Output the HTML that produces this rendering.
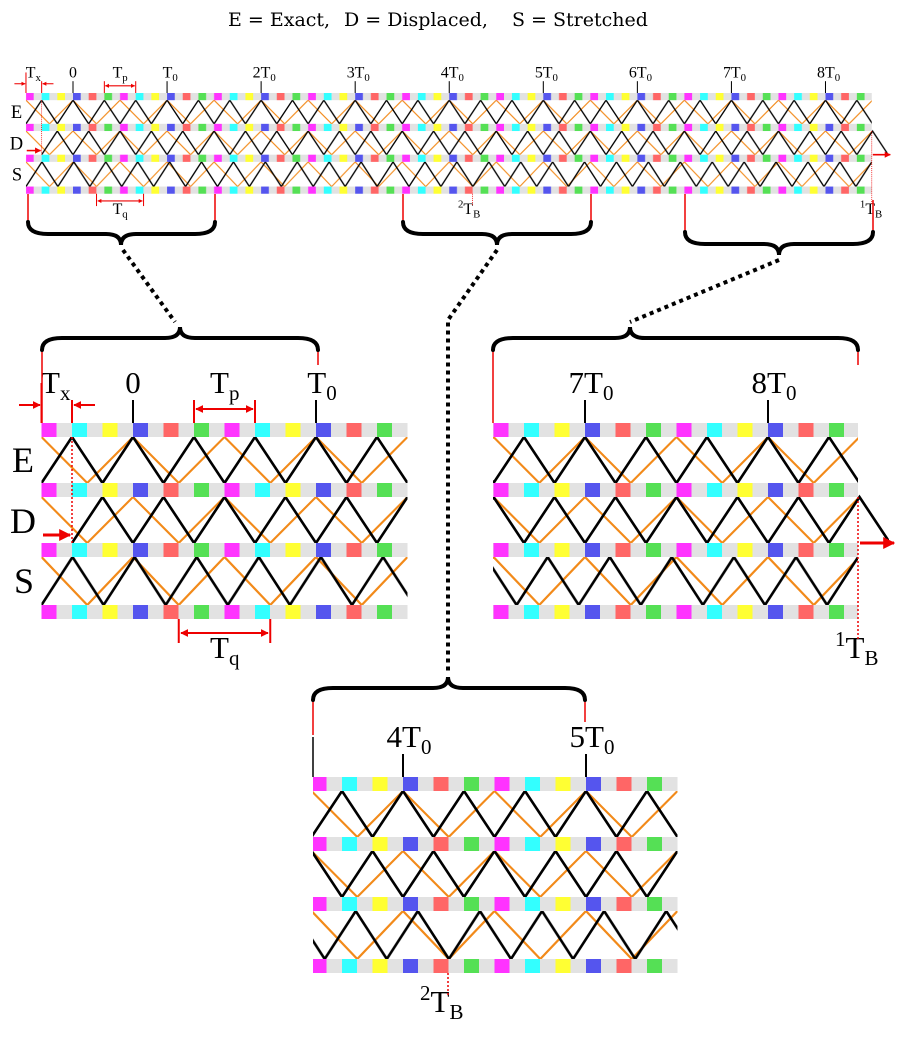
<!DOCTYPE html>
<html><head><meta charset="utf-8"><style>
html,body{margin:0;padding:0;background:#fff;}
svg{display:block;font-family:"Liberation Serif",serif;}
</style></head><body>
<svg width="900" height="1038" viewBox="0 0 900 1038" xmlns="http://www.w3.org/2000/svg" xmlns:xlink="http://www.w3.org/1999/xlink">
<defs>
<marker id="ar" viewBox="0 0 10 10" refX="9" refY="5" markerWidth="4" markerHeight="4" orient="auto-start-reverse" markerUnits="strokeWidth">
<path d="M0,0 L10,5 L0,10 Z" fill="#e00"/></marker>
<pattern id="st" patternUnits="userSpaceOnUse" x="0" y="0" width="183" height="1000">
<rect x="0" y="0" width="183" height="1000" fill="#e2e2e2"/>
<rect x="0" y="0" width="15" height="1000" fill="#5555ee"/>
<rect x="30.5" y="0" width="15" height="1000" fill="#ff6666"/>
<rect x="61" y="0" width="15" height="1000" fill="#55e055"/>
<rect x="91.5" y="0" width="15" height="1000" fill="#ff33ff"/>
<rect x="122" y="0" width="15" height="1000" fill="#33ffff"/>
<rect x="152.5" y="0" width="15" height="1000" fill="#ffff33"/>
</pattern>
<pattern id="zE" patternUnits="userSpaceOnUse" x="0" y="0" width="61" height="300">
<path d="M-30.5,60 L0,14 L30.5,60 L61,14 L91.5,60" fill="none" stroke="#000" stroke-width="2.6"/>
</pattern>
<pattern id="zD" patternUnits="userSpaceOnUse" x="0" y="0" width="61" height="300">
<path d="M-30.5,74 L0,120 L30.5,74 L61,120 L91.5,74" fill="none" stroke="#000" stroke-width="2.6"/>
</pattern>
<pattern id="zS" patternUnits="userSpaceOnUse" x="-91.5" y="0" width="62.1" height="300">
<path d="M-31.05,134 L0,182 L31.05,134 L62.1,182 L93.15,134" fill="none" stroke="#000" stroke-width="2.6"/>
</pattern>
<pattern id="zO" patternUnits="userSpaceOnUse" x="0" y="0" width="91.5" height="300">
<path d="M-45.75,60 L0,14 L45.75,60 L91.5,14 L137.25,60" fill="none" stroke="#f28a1a" stroke-width="2.2"/>
<path d="M-45.75,120 L0,74 L45.75,120 L91.5,74 L137.25,120" fill="none" stroke="#f28a1a" stroke-width="2.2"/>
<path d="M-45.75,182 L0,134 L45.75,182 L91.5,134 L137.25,182" fill="none" stroke="#f28a1a" stroke-width="2.2"/>
</pattern>

<g id="m">
<rect x="-91.5" y="0" width="1645.5" height="200" fill="url(#zO)"/>
<rect x="-91.5" y="0" width="1645.5" height="200" fill="url(#zE)"/>
<rect x="-61" y="0" width="1646" height="200" fill="url(#zD)"/>
<rect x="-91.5" y="0" width="1645.5" height="200" fill="url(#zS)"/>
<rect x="-91.5" y="0" width="1645.5" height="14" fill="url(#st)"/>
<rect x="-91.5" y="60" width="1645.5" height="14" fill="url(#st)"/>
<rect x="-91.5" y="120" width="1645.5" height="14" fill="url(#st)"/>
<rect x="-91.5" y="182" width="1645.5" height="14" fill="url(#st)"/>
<g stroke="#000" stroke-width="2">
<line x1="0" y1="-23" x2="0" y2="0"/><line x1="183" y1="-23" x2="183" y2="0"/>
<line x1="366" y1="-23" x2="366" y2="0"/><line x1="549" y1="-23" x2="549" y2="0"/>
<line x1="732" y1="-23" x2="732" y2="0"/><line x1="915" y1="-23" x2="915" y2="0"/>
<line x1="1098" y1="-23" x2="1098" y2="0"/><line x1="1281" y1="-23" x2="1281" y2="0"/>
<line x1="1464" y1="-23" x2="1464" y2="0"/>
</g>
<g font-size="31" fill="#000">
<text x="-92" y="-30">T<tspan font-size="21" dy="7">x</tspan></text>
<text x="0" y="-30" text-anchor="middle">0</text>
<text x="77" y="-30">T<tspan font-size="21" dy="7">p</tspan></text>
<text x="189" y="-30" text-anchor="middle">T<tspan font-size="21" dy="7">0</tspan></text>
<text x="372" y="-30" text-anchor="middle">2T<tspan font-size="21" dy="7">0</tspan></text>
<text x="555" y="-30" text-anchor="middle">3T<tspan font-size="21" dy="7">0</tspan></text>
<text x="738" y="-30" text-anchor="middle">4T<tspan font-size="21" dy="7">0</tspan></text>
<text x="921" y="-30" text-anchor="middle">5T<tspan font-size="21" dy="7">0</tspan></text>
<text x="1104" y="-30" text-anchor="middle">6T<tspan font-size="21" dy="7">0</tspan></text>
<text x="1287" y="-30" text-anchor="middle">7T<tspan font-size="21" dy="7">0</tspan></text>
<text x="1470" y="-30" text-anchor="middle">8T<tspan font-size="21" dy="7">0</tspan></text>
<text x="77" y="235">T<tspan font-size="21" dy="7">q</tspan></text>
<text x="749" y="235"><tspan font-size="21" dy="-12">2</tspan><tspan dy="12">T</tspan><tspan font-size="21" dy="7">B</tspan></text>
<text x="1531" y="235"><tspan font-size="21" dy="-12">1</tspan><tspan dy="12">T</tspan><tspan font-size="21" dy="7">B</tspan></text>
<text x="-121" y="49" font-size="36">E</text>
<text x="-123" y="110" font-size="36">D</text>
<text x="-119" y="170" font-size="36">S</text>
</g>
<g stroke="#e00" stroke-width="2" fill="none">
<line x1="-91.5" y1="-40" x2="-91.5" y2="0"/>
<line x1="-61" y1="-23" x2="-61" y2="0"/>
<line x1="-61" y1="14" x2="-61" y2="120" stroke-dasharray="2 2" stroke-width="1.5"/>
<line x1="-114" y1="-18" x2="-93" y2="-18" marker-end="url(#ar)"/>
<line x1="-38" y1="-18" x2="-59" y2="-18" marker-end="url(#ar)"/>
<line x1="61" y1="-23" x2="61" y2="0"/><line x1="122" y1="-23" x2="122" y2="0"/>
<line x1="63" y1="-14" x2="120" y2="-14" marker-start="url(#ar)" marker-end="url(#ar)"/>
<line x1="-90" y1="112" x2="-63" y2="112" stroke-width="3" marker-end="url(#ar)"/>
<line x1="45.75" y1="196" x2="45.75" y2="220"/><line x1="137.25" y1="196" x2="137.25" y2="220"/>
<line x1="48" y1="210" x2="135" y2="210" marker-start="url(#ar)" marker-end="url(#ar)"/>
<line x1="777" y1="196" x2="777" y2="218" stroke-dasharray="2 2" stroke-width="1.5"/>
<line x1="1554" y1="74" x2="1554" y2="218" stroke-dasharray="2 2" stroke-width="1.5"/>
<line x1="1556" y1="120" x2="1590" y2="120" stroke-width="3" marker-end="url(#ar)"/>
</g>
</g>
<clipPath id="cL"><rect x="0" y="340" width="407.5" height="350"/></clipPath>
<clipPath id="cR"><rect x="493" y="340" width="407" height="350"/></clipPath>
<clipPath id="cB"><rect x="313" y="700" width="364.5" height="338"/></clipPath>
</defs>

<g font-size="19" fill="#000" font-family="'DejaVu Serif','Liberation Serif',serif">
<text x="228" y="26">E = Exact,</text>
<text x="344" y="26">D = Displaced,</text>
<text x="512" y="26">S = Stretched</text>
</g>

<use href="#m" xlink:href="#m" transform="translate(73,93) scale(0.514)"/>
<g clip-path="url(#cL)"><use href="#m" xlink:href="#m" transform="translate(133,423)"/></g>
<g clip-path="url(#cR)"><use href="#m" xlink:href="#m" transform="translate(-696,423)"/></g>
<g clip-path="url(#cB)"><use href="#m" xlink:href="#m" transform="translate(-329,777)"/></g>

<g stroke="#e00" stroke-width="1.5">
<line x1="28" y1="194" x2="28" y2="222"/><line x1="215" y1="194" x2="215" y2="222"/>
<line x1="403" y1="194" x2="403" y2="222"/><line x1="591" y1="194" x2="591" y2="222"/>
<line x1="685" y1="194" x2="685" y2="232"/><line x1="873" y1="200" x2="873" y2="232"/>
<line x1="42" y1="350" x2="42" y2="423"/><line x1="318" y1="350" x2="318" y2="365"/>
<line x1="493" y1="350" x2="493" y2="423"/><line x1="858" y1="350" x2="858" y2="365"/>
<line x1="313" y1="700" x2="313" y2="735"/><line x1="585" y1="700" x2="585" y2="722"/>
</g>
<line x1="313" y1="737" x2="313" y2="777" stroke="#000" stroke-width="1.5"/>

<g fill="none" stroke="#000" stroke-width="4" stroke-linecap="round">
<path d="M28,222 Q28,234 48,234 L106,234 Q121,234 121,245 Q121,234 136,234 L195,234 Q215,234 215,222"/>
<path d="M403,222 Q403,234 423,234 L482,234 Q497,234 497,245 Q497,234 512,234 L571,234 Q591,234 591,222"/>
<path d="M685,232 Q685,244 705,244 L764,244 Q779,244 779,255 Q779,244 794,244 L853,244 Q873,244 873,232"/>
<path d="M42,350 Q42,338 62,338 L165,338 Q180,338 180,327 Q180,338 195,338 L298,338 Q318,338 318,350"/>
<path d="M493,350 Q493,338 513,338 L615,338 Q630,338 630,327 Q630,338 645,338 L838,338 Q858,338 858,350"/>
<path d="M313,700 Q313,688 333,688 L433,688 Q448,688 448,677 Q448,688 463,688 L565,688 Q585,688 585,700"/>
</g>
<g fill="none" stroke="#000" stroke-width="4" stroke-dasharray="4 4">
<path d="M123,250 L175,322"/>
<path d="M497,250 L448,320 L448,672"/>
<path d="M779,260 L630,322"/>
</g>
</svg>
</body></html>
